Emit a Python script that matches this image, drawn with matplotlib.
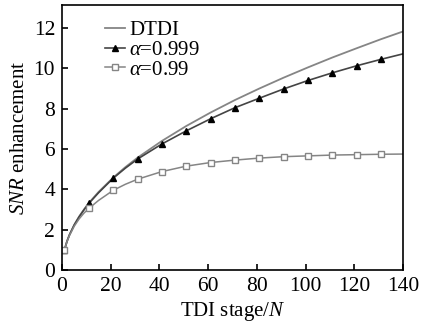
import matplotlib
matplotlib.use("Agg")
import matplotlib.pyplot as plt

# DTDI curve
dtdi_n = [1, 2, 3, 5, 7, 9, 11, 15, 21, 26, 31, 41, 51, 61, 71, 81, 91, 101, 111, 121, 131, 140]
dtdi_v = [1.0, 1.41, 1.73, 2.24, 2.65, 3.0, 3.32, 3.87, 4.58, 5.1, 5.57, 6.4, 7.14, 7.81, 8.43, 9.0, 9.54, 10.05, 10.54, 11.0, 11.45, 11.83]

# alpha = 0.999 (markers every 10 stages)
a999_n = [1, 11, 21, 31, 41, 51, 61, 71, 81, 91, 101, 111, 121, 131]
a999_v = [1.0, 3.3, 4.55, 5.5, 6.25, 6.9, 7.5, 8.05, 8.52, 8.98, 9.4, 9.78, 10.13, 10.45]
a999_line_n = [1, 2, 3, 5, 7, 9, 11, 15, 21, 26, 31, 41, 51, 61, 71, 81, 91, 101, 111, 121, 131, 140]
a999_line_v = [1.0, 1.41, 1.73, 2.23, 2.63, 2.98, 3.3, 3.83, 4.55, 5.05, 5.5, 6.25, 6.9, 7.5, 8.05, 8.52, 8.98, 9.4, 9.78, 10.13, 10.45, 10.72]

# alpha = 0.99
a99_n = [1, 11, 21, 31, 41, 51, 61, 71, 81, 91, 101, 111, 121, 131]
a99_v = [1.0, 3.05, 3.95, 4.5, 4.88, 5.15, 5.33, 5.45, 5.55, 5.62, 5.66, 5.7, 5.72, 5.74]
a99_line_n = [1, 2, 3, 5, 7, 9, 11, 15, 21, 26, 31, 41, 51, 61, 71, 81, 91, 101, 111, 121, 131, 140]
a99_line_v = [1.0, 1.4, 1.7, 2.17, 2.53, 2.82, 3.05, 3.45, 3.95, 4.25, 4.5, 4.88, 5.15, 5.33, 5.45, 5.55, 5.62, 5.66, 5.7, 5.72, 5.74, 5.75]

xticks = [0, 20, 40, 60, 80, 100, 120, 140]
yticks = [0, 2, 4, 6, 8, 10, 12]

plt.rcParams['font.family'] = ['Liberation Serif', 'DejaVu Serif']
plt.rcParams['mathtext.fontset'] = 'custom'
plt.rcParams['mathtext.rm'] = 'Liberation Serif'
plt.rcParams['mathtext.it'] = 'Liberation Serif:italic'

fig = plt.figure(figsize=(4.25, 3.28), dpi=100)
ax = fig.add_axes([0.146, 0.177, 0.802, 0.808])

gray = '#858585'
dark = '#444444'
ax.plot(dtdi_n, dtdi_v, color=gray, lw=1.3)
ax.plot(a999_line_n, a999_line_v, color=dark, lw=1.2)
ax.plot(a999_n, a999_v, linestyle='none', marker='^', ms=4.6, color='black')
ax.plot(a99_line_n, a99_line_v, color=gray, lw=1.1)
ax.plot(a99_n, a99_v, linestyle='none', marker='s', ms=4.3, mfc='white', mec=gray, mew=1.0)

# legend handles
h1, = ax.plot([], [], color=gray, lw=1.3)
h2, = ax.plot([], [], color=dark, lw=1.2, marker='^', ms=4.6, mfc='black', mec='black')
h3, = ax.plot([], [], color=gray, lw=1.1, marker='s', ms=4.3, mfc='white', mec=gray)
ax.legend([h1, h2, h3], ['DTDI', r'$\alpha$=0.999', r'$\alpha$=0.99'],
          loc='upper left', bbox_to_anchor=(0.126, 0.94), frameon=False,
          fontsize=15, handlelength=0.95, handletextpad=0.2, labelspacing=0.0,
          borderaxespad=0.0, borderpad=0.0)

ax.set_xlim(0, 140)
ax.set_ylim(0, 13.15)
ax.set_xticks(xticks)
ax.set_yticks(yticks)
ax.tick_params(direction='in', length=4, width=1.2, labelsize=15.5, colors='black', pad=5,
               top=False, right=False)
for s in ax.spines.values():
    s.set_linewidth(1.2)
ax.set_xlabel(r'TDI stage/$N$', fontsize=15, labelpad=3)
ax.set_ylabel(r'$SNR$ enhancement', fontsize=15, labelpad=3)

fig.savefig('out.png', dpi=100)
